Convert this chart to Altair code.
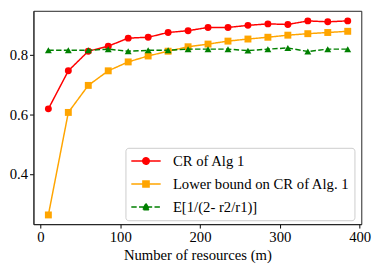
import altair as alt
import pandas as pd

x_vals = [10, 35, 60, 85, 110, 135, 160, 185, 210, 235, 260, 285, 310, 335, 360, 385]
cr_alg1 = [0.619, 0.747, 0.813, 0.830, 0.857, 0.860, 0.876, 0.882, 0.893, 0.893, 0.900, 0.905, 0.903, 0.915, 0.912, 0.915]
lower_bound = [0.262, 0.607, 0.698, 0.747, 0.777, 0.797, 0.813, 0.828, 0.837, 0.847, 0.854, 0.860, 0.867, 0.872, 0.876, 0.880]
expectation = [0.816, 0.816, 0.816, 0.820, 0.813, 0.816, 0.816, 0.820, 0.820, 0.820, 0.815, 0.820, 0.824, 0.812, 0.820, 0.820]

series_names = ["CR of Alg 1", "Lower bound on CR of Alg. 1", "E[1/(2- r2/r1)]"]
series_colors = ["#ff0000", "#ffa500", "#008000"]
series_shapes = ["circle", "square", "triangle-up"]
series_dashes = [[1, 0], [1, 0], [5.5, 2.4]]
legend_paths = [
    "M-2,0H2M-0.44,0A0.44,0.44,0,1,1,0.44,0A0.44,0.44,0,1,1,-0.44,0Z",
    "M-2,0H2M-0.42,-0.42H0.42V0.42H-0.42Z",
    "M-2,0H2M0,-0.48L0.48,0.36L-0.48,0.36Z",
]

rows = []
for name, ys in zip(series_names, [cr_alg1, lower_bound, expectation]):
    for xv, yv in zip(x_vals, ys):
        rows.append({"series": name, "m": xv, "value": yv})
df = pd.DataFrame(rows)

FONT = "Liberation Serif"

x_enc = alt.X("m:Q", scale=alt.Scale(domain=[-8.7, 402], nice=False, zero=False),
              axis=alt.Axis(values=[0, 100, 200, 300, 400], title="Number of resources (m)",
                            labelFont=FONT, titleFont=FONT, labelFontSize=15, titleFontSize=15))
y_enc = alt.Y("value:Q", scale=alt.Scale(domain=[0.231, 0.949], nice=False, zero=False),
              axis=alt.Axis(values=[0.4, 0.6, 0.8], format=".1f", title=None,
                            labelFont=FONT, labelFontSize=15))

layers = []
for name, col, shp, dash in zip(series_names, series_colors, series_shapes, series_dashes):
    base = alt.Chart(df).transform_filter(alt.datum.series == name)
    layers.append(base.mark_line(color=col, strokeWidth=1.5, strokeDash=dash).encode(x=x_enc, y=y_enc))
    layers.append(base.mark_point(filled=True, shape=shp, size=50, color=col, opacity=1).encode(x=x_enc, y=y_enc))

legend = alt.Legend(
    title=None, orient="none", legendX=94, legendY=140,
    fillColor="white", strokeColor="#cccccc", cornerRadius=3, padding=5,
    labelFont=FONT, labelFontSize=15, labelColor="black", labelOffset=19, labelLimit=300,
    symbolSize=225, symbolOffset=7.5, symbolStrokeWidth=1.5, symbolOpacity=1, rowPadding=6.5,
)
legend_layer = alt.Chart(df).transform_filter("false").mark_point(
    filled=True, size=225, strokeWidth=1.5, opacity=1
).encode(
    x=x_enc, y=y_enc,
    fill=alt.Fill("series:N", scale=alt.Scale(domain=series_names, range=series_colors), legend=legend),
    stroke=alt.Stroke("series:N", scale=alt.Scale(domain=series_names, range=series_colors), legend=legend),
    shape=alt.Shape("series:N", scale=alt.Scale(domain=series_names, range=legend_paths), legend=legend),
    strokeDash=alt.StrokeDash("series:N", scale=alt.Scale(domain=series_names, range=series_dashes), legend=legend),
)

chart = alt.layer(*layers, legend_layer).properties(
    width=335, height=218,
    autosize=alt.AutoSizeParams(type="none"),
    padding={"left": 26, "top": 0, "right": 14, "bottom": 45},
).configure_view(
    stroke="#222222", strokeWidth=1
).configure_axis(
    grid=False, labelFont=FONT, labelFontSize=15, labelColor="black",
    titleFont=FONT, titleFontSize=15, titleColor="black", titleFontWeight="normal",
    tickColor="black", tickSize=4, tickWidth=1, domainColor="#222222", labelPadding=2,
).configure_axisX(titlePadding=3)

chart.save("out.html", embed_options={"renderer": "svg", "actions": False})
